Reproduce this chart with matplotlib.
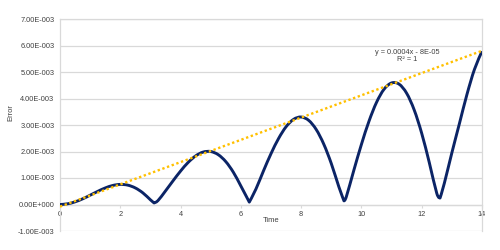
import matplotlib
matplotlib.use("Agg")
import matplotlib.pyplot as plt
import numpy as np
from matplotlib.path import Path
from matplotlib.patches import PathPatch
from matplotlib.ticker import FuncFormatter, MultipleLocator

plt.rcParams['font.family'] = ['Liberation Sans', 'DejaVu Sans']

# error curve (units of 1e-3)
time = [0, 0.25, 0.5, 0.75, 1.0, 1.25, 1.5, 1.75, 2.0, 2.25, 2.5, 2.75, 3.0, 3.12,
        3.25, 3.5, 3.75, 4.0, 4.25, 4.5, 4.75, 5.0, 5.25, 5.5, 5.75, 6.0, 6.28,
        6.5, 6.75, 7.0, 7.25, 7.5, 7.75, 8.0, 8.25, 8.5, 8.75, 9.0, 9.25, 9.42,
        9.5, 9.75, 10.0, 10.25, 10.5, 10.75, 11.0, 11.25, 11.5, 11.75, 12.0, 12.25,
        12.5, 12.61, 12.75, 13.0, 13.25, 13.5, 13.75, 14.0]
error_e3 = [0, 0.026, 0.10, 0.213, 0.351, 0.495, 0.624, 0.718, 0.758, 0.730, 0.624,
            0.438, 0.177, 0.06, 0.147, 0.512, 0.894, 1.262, 1.586, 1.834, 1.979,
            1.999, 1.880, 1.618, 1.219, 0.699, 0.09, 0.583, 1.267, 1.918, 2.488,
            2.934, 3.214, 3.301, 3.175, 2.830, 2.279, 1.547, 0.671, 0.14, 0.297,
            1.299, 2.269, 3.140, 3.852, 4.349, 4.587, 4.541, 4.198, 3.570, 2.685,
            1.589, 0.42, 0.25, 0.80, 1.95, 3.05, 4.15, 5.10, 5.78]
error = [v * 1e-3 for v in error_e3]

# linear trendline end points
trend_x = [0, 14]
trend_y = [-0.00008, 0.0058]
trend_label = "y = 0.0004x - 8E-05\nR² = 1"

y_ticks = [-0.001, 0, 0.001, 0.002, 0.003, 0.004, 0.005, 0.006, 0.007]


def excel_sci(v, pos=None):
    if abs(v) < 1e-12:
        return "0.00E+000"
    exp = 0
    m = abs(v)
    while m >= 10:
        m /= 10
        exp += 1
    while m < 1:
        m *= 10
        exp -= 1
    sign = "-" if v < 0 else ""
    esign = "-" if exp < 0 else "+"
    return f"{sign}{m:.2f}E{esign}{abs(exp):03d}"


def smooth_path(x, y):
    # smoothed line through every point, sharp corners at the dips
    p = np.column_stack([x, y])
    n = len(p)
    corner = [0 < i < n - 1 and y[i] < y[i - 1] and y[i] < y[i + 1] for i in range(n)]
    verts = [p[0]]
    codes = [Path.MOVETO]
    for i in range(n - 1):
        p0 = p[max(i - 1, 0)]
        p1 = p[i]
        p2 = p[i + 1]
        p3 = p[min(i + 2, n - 1)]
        c1 = p1 if corner[i] else p1 + (p2 - p0) / 6.0
        c2 = p2 if corner[i + 1] else p2 - (p3 - p1) / 6.0
        verts += [c1, c2, p2]
        codes += [Path.CURVE4] * 3
    return Path(verts, codes)


fig = plt.figure(figsize=(5, 2.5), dpi=100)
ax = fig.add_axes([0.12, 0.076, 0.844, 0.848])

grid_c = '#d9d9d9'
txt_c = '#404040'

for yv in y_ticks:
    ax.axhline(yv, color=grid_c, lw=0.9, zorder=0)

ax.add_patch(PathPatch(smooth_path(time, error), facecolor='none',
                       edgecolor='#0b2466', lw=2.1, joinstyle='round', zorder=3))
ax.plot(trend_x, trend_y, color='#ffc000', lw=1.7, ls=(0, (1, 1.1)), zorder=4)

ax.set_xlim(0, 14)
ax.set_ylim(-0.001, 0.007)
ax.xaxis.set_major_locator(MultipleLocator(2))
ax.set_yticks(y_ticks)
ax.yaxis.set_major_formatter(FuncFormatter(excel_sci))

for s in ['left', 'bottom', 'right', 'top']:
    ax.spines[s].set_color(grid_c)
    ax.spines[s].set_linewidth(0.9)
ax.spines['bottom'].set_position(('data', 0))

ax.tick_params(axis='both', labelsize=5.3, colors=txt_c, length=0, pad=4)
ax.tick_params(axis='x', length=2.5, direction='out', color=grid_c, pad=2)

ax.set_xlabel("Time", fontsize=5.5, color=txt_c)
ax.xaxis.set_label_coords(0.5, 0.065)
ax.set_ylabel("Error", fontsize=5.5, color=txt_c)
ax.yaxis.set_label_coords(-0.107, 0.557)

ax.text(0.822, 0.86, trend_label, transform=ax.transAxes, fontsize=5.3,
        color=txt_c, ha='center', va='top', linespacing=1.1)

fig.savefig("out.png", dpi=100)
